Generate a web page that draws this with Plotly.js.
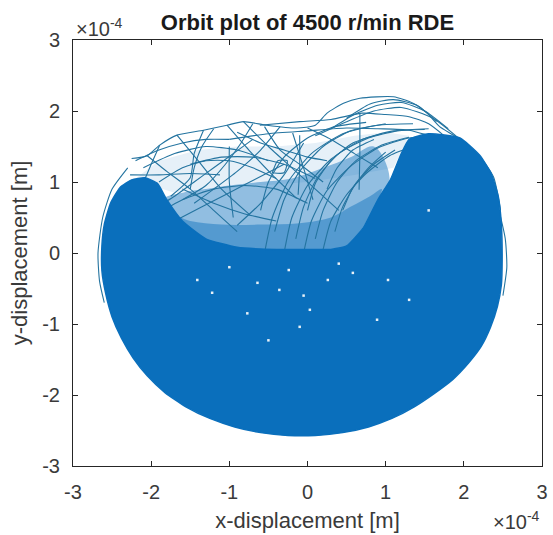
<!DOCTYPE html>
<html>
<head>
<meta charset="utf-8">
<script src="https://cdn.plot.ly/plotly-3.0.1.min.js"></script>
<style>html,body{margin:0;padding:0;background:#fff;}#chart{width:553px;height:535px;}</style>
</head>
<body>
<div id="chart"></div>
<script>
// All displacements in units of 1e-4 m (axis multiplier ×10^-4)
const tickVals = [-3, -2, -1, 0, 1, 2, 3];
const tickText = ["-3", "-2", "-1", "0", "1", "2", "3"];

// Outline of the solid (densely over-plotted) orbit region
const denseX = [2.49,2.48,2.43,2.34,2.22,2.06,1.86,1.62,1.36,1.08,0.78,0.45,0.1,-0.25,-0.6,-0.93,-1.25,-1.55,-1.82,-2.05,-2.23,-2.38,-2.5,-2.58,-2.63,-2.63,-2.6,-2.52,-2.4,-2.25,-2.08,-1.92,-1.8,-1.6,-1.3,-0.9,-0.4,0.0,0.3,0.5,0.71,0.9,1.06,1.2,1.3,1.55,1.95,2.2,2.35,2.44,2.48,2.49];
const denseY = [-0.1,-0.45,-0.75,-1.05,-1.32,-1.55,-1.78,-1.98,-2.17,-2.33,-2.45,-2.53,-2.57,-2.57,-2.53,-2.45,-2.33,-2.17,-1.97,-1.73,-1.48,-1.2,-0.9,-0.58,-0.25,0.1,0.4,0.7,0.92,1.03,1.06,0.98,0.75,0.45,0.2,0.08,0.05,0.05,0.05,0.1,0.35,0.75,1.03,1.4,1.6,1.68,1.62,1.38,1.12,0.8,0.4,-0.1];

// Small uncovered gaps inside the solid region
const gapX = [-1.0,-0.64,-0.36,0.03,-0.5,0.89,1.3,-1.22,-0.24,0.26,0.58,-0.77,-0.1,-1.41,1.03,1.55,-0.05,0.4];
const gapY = [-0.2,-0.42,-0.52,-0.8,-1.23,-0.94,-0.66,-0.56,-0.24,-0.38,-0.28,-0.85,-1.04,-0.38,-0.38,0.6,-0.6,-0.15];

// Partly filled zones (many crossing traces with small gaps), densest first
const nearX = [-1.75,-1.5,-1.1,-0.6,-0.1,0.3,0.55,0.8,0.95,0.7,0.5,0.3,-0.2,-0.6,-1.0,-1.4,-1.75];
const nearY = [0.55,0.45,0.4,0.4,0.42,0.5,0.65,0.8,0.9,0.35,0.1,0.05,0.05,0.05,0.08,0.2,0.55];
const midX = [-1.85,-1.6,-1.3,-1.0,-0.6,-0.2,0.2,0.55,0.85,1.05,0.9,0.7,0.5,0.3,-0.2,-0.6,-1.0,-1.4,-1.75,-1.85];
const midY = [0.75,0.85,0.9,0.95,1.0,1.05,1.2,1.35,1.5,1.05,0.7,0.3,0.0,-0.05,0.0,0.0,0.02,0.1,0.45,0.75];
const lightX = [-2.2,-1.9,-1.4,-0.9,-0.4,0.1,0.6,1.0,1.3,1.1,0.6,0.0,-0.6,-1.2,-1.7,-2.0,-2.2];
const lightY = [1.05,1.3,1.45,1.5,1.5,1.55,1.65,1.7,1.65,1.2,1.1,1.0,0.95,0.9,0.85,0.95,1.05];

// Individual orbit traces visible above the solid region
const traceX = [
  [-2.25,-2.05,-1.89,-1.67,-1.33,-1.03,-0.82,-0.52,-0.14,0.1,0.25,0.46,0.67,1.1,1.35,1.53,1.69,1.91,2.21,2.38,2.47],
  [-0.61,-0.1,0.3,0.7,1.0,1.3,1.55,1.75],
  [-1.0,-0.5,0.0,0.5,0.9,1.3,1.7,2.0],
  [0.3,0.6,0.9,1.2,1.5,1.8],
  [0.1,0.5,0.85,1.2,1.6,1.95],
  [0.5,0.8,1.1,1.4,1.65],
  [-0.55,-0.45,-0.25,0.05,0.45,0.9,1.35],
  [-0.3,-0.2,0.0,0.3,0.7,1.1,1.5],
  [-0.05,0.05,0.25,0.55,0.9,1.3,1.7],
  [0.2,0.3,0.5,0.75,1.05,1.4],
  [0.1,0.2,0.38,0.62,0.95,1.3],
  [-0.15,-0.05,0.12,0.4,0.78,1.15,1.55],
  [0.35,0.45,0.62,0.85,1.12],
  [-0.42,-0.3,-0.1,0.2,0.55,1.0],
  [0.0,0.1,0.3,0.58,0.95],
  [0.45,0.58,0.78,1.0],
  [-0.6,-0.5,-0.3,0.0,0.35,0.75],
  [0.25,0.38,0.58,0.85],
  [0.67,0.67,0.66],
  [-0.45,-0.38,-0.26,-0.3,-0.45,-0.45],
  [-0.19,-0.05,0.07],
  [-1.67,-1.4,-1.1,-0.74],
  [-1.33,-1.45,-1.5,-1.75],
  [-1.03,-0.75,-0.45,-0.14],
  [-2.27,-1.9,-1.5,-1.12],
  [-0.1,-0.1,-0.12],
  [-0.05,-0.3,-0.6,-0.9],
  [-2.05,-1.8,-1.5,-1.2,-0.9],
  [-1.89,-2.0,-2.1,-2.3],
  [-2.1,-1.7,-1.3,-0.9,-0.5],
  [-1.5,-1.1,-0.7,-0.3,0.1],
  [-0.82,-0.5,-0.2,0.1,0.4],
  [-1.0,-1.0,-0.95],
  [-1.6,-1.2,-0.8,-0.4],
  [-2.0,-1.6,-1.2,-0.8,-0.4,0.0],
  [-0.55,-0.35,-0.1,0.2],
  [0.0,0.3,0.6,0.9],
  [-2.2,-1.9,-1.6,-1.3,-1.0],
  [-1.9,-1.6,-1.3,-1.0,-0.7,-0.4],
  [-1.2,-1.35,-1.45,-1.5],
  [-0.7,-0.85,-1.05,-1.3,-1.6],
  [-0.35,-0.6,-0.9,-1.2,-1.45],
  [-2.0,-1.7,-1.45,-1.2,-0.95,-0.7],
  [-1.7,-1.35,-1.0,-0.65,-0.3],
  [-0.9,-0.6,-0.3,0.0,0.25],
  [-2.3,-2.5,-2.62,-2.68,-2.66,-2.6],
  [2.45,2.53,2.55,2.5]
];
const traceY = [
  [1.33,1.37,1.52,1.66,1.73,1.80,1.85,1.80,1.76,1.80,1.97,2.11,2.18,2.2,2.11,1.97,1.78,1.63,1.35,1.07,0.6],
  [1.80,1.85,1.88,1.97,1.95,1.92,1.82,1.65],
  [1.6,1.68,1.72,1.76,1.75,1.73,1.6,1.45],
  [1.75,1.95,2.08,2.12,2.0,1.75],
  [1.65,1.85,2.0,2.05,1.9,1.6],
  [1.9,2.1,2.16,2.08,1.85],
  [0.0,0.5,1.0,1.4,1.68,1.8,1.82],
  [0.0,0.5,0.95,1.32,1.6,1.72,1.74],
  [0.0,0.45,0.88,1.22,1.48,1.62,1.64],
  [0.05,0.45,0.82,1.12,1.37,1.52],
  [0.2,0.6,1.0,1.3,1.52,1.63],
  [0.2,0.65,1.05,1.4,1.62,1.72,1.75],
  [0.3,0.65,0.98,1.25,1.45],
  [0.3,0.75,1.15,1.5,1.72,1.82],
  [0.6,0.98,1.3,1.55,1.68],
  [0.6,0.92,1.2,1.42],
  [0.6,1.0,1.35,1.62,1.78,1.84],
  [0.9,1.2,1.45,1.6],
  [1.97,1.4,0.89],
  [1.13,1.3,1.3,1.13,1.13,1.13],
  [1.69,1.2,0.75],
  [1.66,1.3,0.9,0.54],
  [1.73,1.4,1.06,0.8],
  [1.80,1.45,1.1,0.77],
  [1.10,1.1,1.12,1.10],
  [1.66,1.2,0.82],
  [1.55,1.1,0.7,0.39],
  [1.37,1.15,0.9,0.6,0.3],
  [1.52,1.25,1.0,0.7],
  [1.2,1.4,1.5,1.45,1.3],
  [1.25,1.35,1.35,1.25,1.05],
  [1.85,1.5,1.2,0.9,0.6],
  [1.5,1.0,0.5],
  [0.9,0.7,0.55,0.45],
  [0.5,0.75,0.9,0.95,0.9,0.7],
  [1.78,1.45,1.25,1.0],
  [1.76,1.6,1.4,1.2],
  [1.3,1.45,1.55,1.6,1.6],
  [1.0,1.2,1.3,1.3,1.2,1.05],
  [1.75,1.5,1.2,0.9],
  [1.82,1.55,1.25,0.95,0.75],
  [1.78,1.45,1.15,0.9,0.7],
  [0.6,0.8,1.0,1.2,1.4,1.6],
  [0.45,0.65,0.85,1.05,1.25],
  [1.7,1.55,1.45,1.35,1.3],
  [1.2,0.9,0.5,0.0,-0.4,-0.7],
  [0.6,0.2,-0.2,-0.6]
];

const blue = "#0a6fbc";
const lineBlue = "#2474a0";
const fontFam = "Liberation Sans, Arial, sans-serif";

const data = [];
data.push({x: lightX, y: lightY, type: "scatter", mode: "lines", fill: "toself",
  fillcolor: "rgba(10,111,188,0.1)", line: {width: 0}, hoverinfo: "skip", showlegend: false});
data.push({x: midX, y: midY, type: "scatter", mode: "lines", fill: "toself",
  fillcolor: "rgba(10,111,188,0.45)", line: {width: 0, shape: "spline"}, hoverinfo: "skip", showlegend: false});
data.push({x: nearX, y: nearY, type: "scatter", mode: "lines", fill: "toself",
  fillcolor: "rgba(10,111,188,0.45)", line: {width: 0, shape: "spline"}, hoverinfo: "skip", showlegend: false});
for (let i = 0; i < traceX.length; i++) {
  data.push({x: traceX[i], y: traceY[i], type: "scatter", mode: "lines",
    line: {color: lineBlue, width: 1.1, shape: "spline", smoothing: 0.6}, hoverinfo: "skip", showlegend: false});
}
data.push({x: denseX, y: denseY, type: "scatter", mode: "lines", fill: "toself",
  fillcolor: blue, line: {color: blue, width: 1.5, shape: "spline", smoothing: 0.5}, hoverinfo: "skip", showlegend: false});
data.push({x: gapX, y: gapY, type: "scatter", mode: "markers",
  marker: {color: "#e8f1f8", size: 2.5, symbol: "square"}, hoverinfo: "skip", showlegend: false});

const axisCommon = {
  range: [-3, 3], tickvals: tickVals, ticktext: tickText,
  ticks: "inside", ticklen: 5, tickwidth: 1, tickcolor: "#262626",
  showline: true, linecolor: "#262626", linewidth: 1, mirror: "ticks",
  showgrid: false, zeroline: false,
  tickfont: {family: fontFam, size: 20, color: "#3a3a3a"},
  fixedrange: true
};

const layout = {
  width: 553, height: 535,
  margin: {l: 73, r: 11, t: 40, b: 69, pad: 0},
  paper_bgcolor: "#ffffff", plot_bgcolor: "#ffffff",
  showlegend: false,
  title: {text: "<b>Orbit plot of 4500 r/min RDE</b>",
    font: {family: fontFam, size: 22, color: "#1a1a1a"},
    x: 0.5, xref: "paper", xanchor: "center", y: 1 - 22/535, yref: "container", yanchor: "middle"},
  xaxis: Object.assign({}, axisCommon, {
    ticklabelstandoff: 8,
    title: {text: "x-displacement [m]", standoff: 10,
      font: {family: fontFam, size: 22, color: "#3a3a3a"}}
  }),
  yaxis: Object.assign({}, axisCommon, {
    ticklabelstandoff: 8,
    title: {text: "y-displacement [m]", standoff: 8,
      font: {family: fontFam, size: 22, color: "#3a3a3a"}}
  }),
  annotations: [
    {text: "×10<sup>-4</sup>", xref: "paper", yref: "paper", x: 0.002, y: 0.996,
      xanchor: "left", yanchor: "bottom", showarrow: false,
      font: {family: fontFam, size: 20, color: "#3a3a3a"}},
    {text: "×10<sup>-4</sup>", xref: "paper", yref: "paper", x: 1.0, y: -0.162,
      xanchor: "right", yanchor: "bottom", showarrow: false,
      font: {family: fontFam, size: 20, color: "#3a3a3a"}}
  ]
};

Plotly.newPlot("chart", data, layout, {displayModeBar: false, staticPlot: true});
</script>
</body>
</html>
